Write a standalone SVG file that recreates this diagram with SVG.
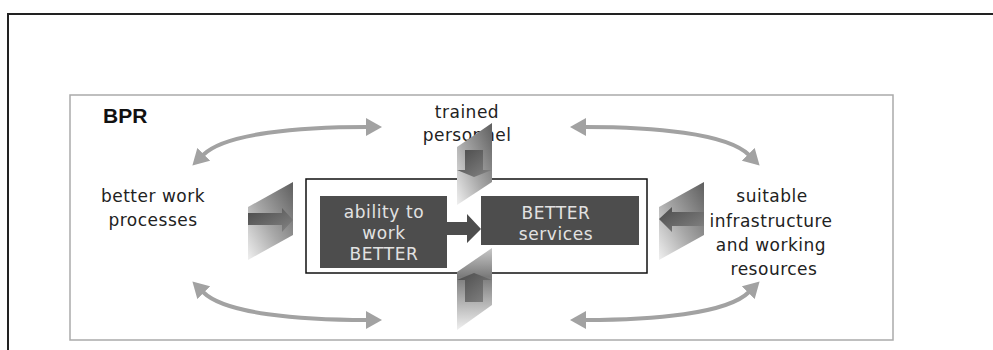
<svg xmlns="http://www.w3.org/2000/svg" width="993" height="350" viewBox="0 0 993 350">
  <defs>
    <style>
      .lbl { font-family: "DejaVu Sans", Verdana, sans-serif; font-size: 17px; letter-spacing: 0.5px; fill: #222; text-anchor: middle; }
      .boxtxt { font-family: "DejaVu Sans", Verdana, sans-serif; font-size: 17px; letter-spacing: 0.6px; fill: #e2e2e2; text-anchor: middle; }
      .title { font-family: "Liberation Sans", Arial, sans-serif; font-size: 21px; font-weight: bold; fill: #111; }
      .box { fill: #4d4d4d; }
      .curve { fill: none; stroke: #a2a2a2; stroke-width: 4; marker-start: url(#head); marker-end: url(#head); }
      .arr { fill: url(#arrGrad); }
    </style>
    <marker id="head" viewBox="0 0 16 18" refX="1" refY="9" markerWidth="16" markerHeight="18" markerUnits="userSpaceOnUse" orient="auto-start-reverse">
      <path d="M0,0 L16,9 L0,18 Z" fill="#a2a2a2"/>
    </marker>
    <linearGradient id="plateV" x1="1" y1="0" x2="0" y2="1">
      <stop offset="0" stop-color="#5e5e5e"/>
      <stop offset="0.55" stop-color="#a8a8a8"/>
      <stop offset="1" stop-color="#f0f0f0"/>
    </linearGradient>
    <linearGradient id="plateB" x1="0" y1="0" x2="0" y2="1">
      <stop offset="0" stop-color="#c8c8c8"/>
      <stop offset="0.35" stop-color="#7a7a7a"/>
      <stop offset="1" stop-color="#f0f0f0"/>
    </linearGradient>
    <linearGradient id="arrGrad" x1="0" y1="0" x2="1" y2="1">
      <stop offset="0" stop-color="#4a4a4a"/>
      <stop offset="1" stop-color="#858585"/>
    </linearGradient>
  </defs>

  <rect x="8" y="14" width="1000" height="400" fill="#fff" stroke="#222" stroke-width="2"/>
  <rect id="bpr-frame" x="70" y="95" width="823" height="245" fill="#fff" stroke="#aaa" stroke-width="1.5"/>
  <text class="title" x="103" y="123">BPR</text>

  <g id="connectors">
    <path class="curve" d="M203,155 C225,133 300,127 367,127"/>
    <path class="curve" d="M749,155 C727,133 652,127 585,127"/>
    <path class="curve" d="M203,292 C225,314 300,320 367,320"/>
    <path class="curve" d="M749,292 C727,314 652,320 585,320"/>
  </g>

  <g id="better-work-processes">
    <text class="lbl" x="153" y="202">better work</text>
    <text class="lbl" x="153" y="226">processes</text>
  </g>

  <g id="trained-personnel">
    <text class="lbl" x="467" y="118">trained</text>
    <text class="lbl" x="467" y="141">personnel</text>
  </g>

  <g id="suitable-infrastructure">
    <text class="lbl" x="772" y="202">suitable</text>
    <text class="lbl" x="771" y="227">infrastructure</text>
    <text class="lbl" x="771" y="251">and working</text>
    <text class="lbl" x="774" y="275">resources</text>
  </g>

  <g id="core">
    <rect x="306" y="179" width="341" height="94" fill="#fff" stroke="#111" stroke-width="1.5"/>
  </g>

  <g id="ability">
    <rect class="box" x="320" y="196" width="127" height="72"/>
    <text class="boxtxt" x="384" y="218">ability to</text>
    <text class="boxtxt" x="384" y="239">work</text>
    <text class="boxtxt" x="384" y="260">BETTER</text>
  </g>

  <g id="better-services">
    <rect class="box" x="481" y="196" width="158" height="49"/>
    <text class="boxtxt" x="556" y="219">BETTER</text>
    <text class="boxtxt" x="556" y="240">services</text>
  </g>

  <g id="center-arrow">
    <path d="M447,222 H467 V214 L481,229 L467,243 V235 H447 Z" fill="#4d4d4d"/>
  </g>

  <g id="plate-top">
    <polygon points="457,147 492,123 492,182 457,205" fill="url(#plateV)"/>
    <path class="arr" d="M465,150 H483 V170 H492 L474,177 L457,170 H465 Z"/>
  </g>

  <g id="plate-bottom">
    <polygon points="457,272 492,248 492,305 457,330" fill="url(#plateB)"/>
    <path class="arr" d="M465,302 V280 H457 L474,273 L492,280 H483 V302 Z"/>
  </g>

  <g id="plate-left">
    <polygon points="248,207 293,182 293,235 248,260" fill="url(#plateV)"/>
    <path class="arr" d="M248,213 H282 V208 L293,220 L282,232 V225 H248 Z"/>
  </g>

  <g id="plate-right">
    <polygon points="659,207 704,182 704,235 659,260" fill="url(#plateV)"/>
    <path class="arr" d="M704,212 H672 V207 L659,219 L672,232 V226 H704 Z"/>
  </g>
</svg>
